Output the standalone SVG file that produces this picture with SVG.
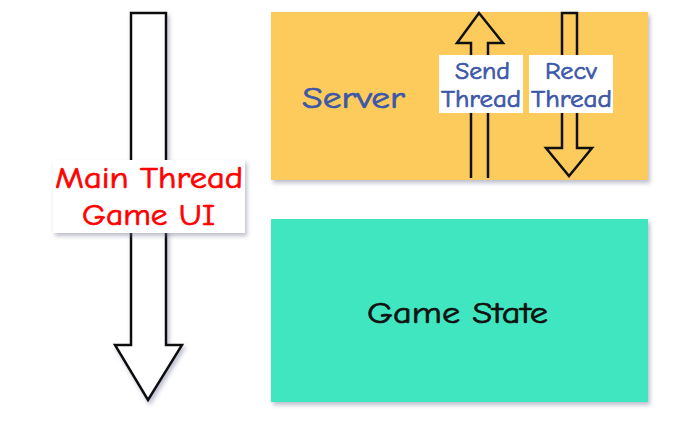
<svg xmlns="http://www.w3.org/2000/svg" width="694" height="423" viewBox="0 0 694 423">
<defs>
<filter id="sh" x="-10%" y="-10%" width="130%" height="130%">
<feDropShadow dx="2" dy="3" stdDeviation="2" flood-color="#6a6f90" flood-opacity="0.45"/>
</filter>
</defs>
<style>
.t{font-family:"Comic Sans MS","Comic Neue","Noto Sans","Liberation Sans",sans-serif;stroke-width:0.7}
.arrow{fill:#ffffff;stroke:#111111;stroke-width:2.5;stroke-linejoin:miter}
.arrowY{fill:#fccb5c;stroke:#111111;stroke-width:2.5;stroke-linejoin:miter}
.lbl{fill:#ffffff}
.blue{fill:#3d57a8;stroke:#3d57a8}
.red{fill:#ff0000;stroke:#ff0000}
.blk{fill:#111111;stroke:#111111}
</style>
<rect width="694" height="423" fill="#ffffff"/>
<g id="server">
<rect x="271" y="12" width="377" height="168" fill="#fccb5c" filter="url(#sh)"/>
<text class="t blue" x="302" y="108" font-size="30" textLength="103" lengthAdjust="spacingAndGlyphs">Server</text>
</g>
<g id="game-state">
<rect x="271" y="219" width="377" height="183" fill="#41e6c0" filter="url(#sh)"/>
<text class="t blk" x="367" y="323" font-size="31" textLength="181" lengthAdjust="spacingAndGlyphs">Game State</text>
</g>
<g id="connectors">
<path id="main-thread-arrow" class="arrow" filter="url(#sh)" d="M131,13 H166 V345 H182 L148,400 L115,345 H131 Z"/>
<path id="send-arrow" class="arrowY" d="M471,178 V43 H457 L479,13 L503,43 H488 V178"/>
<path id="recv-arrow" class="arrowY" d="M562,13 H577 V148 H592 L569,176 L546,148 H562 Z"/>
</g>
<g id="main-thread">
<rect x="53" y="160" width="192" height="73" class="lbl" filter="url(#sh)"/>
<text class="t red" x="55" y="188" font-size="30" textLength="188" lengthAdjust="spacingAndGlyphs">Main Thread</text>
<text class="t red" x="82" y="225" font-size="30" textLength="133" lengthAdjust="spacingAndGlyphs">Game UI</text>
</g>
<g id="send-thread">
<rect x="439" y="55" width="84" height="58" class="lbl"/>
<text class="t blue" x="455" y="79" font-size="24" textLength="55" lengthAdjust="spacingAndGlyphs">Send</text>
<text class="t blue" x="441" y="107" font-size="24" textLength="80" lengthAdjust="spacingAndGlyphs">Thread</text>
</g>
<g id="recv-thread">
<rect x="529" y="55" width="84" height="58" class="lbl"/>
<text class="t blue" x="545" y="79" font-size="24" textLength="52" lengthAdjust="spacingAndGlyphs">Recv</text>
<text class="t blue" x="531" y="107" font-size="24" textLength="81" lengthAdjust="spacingAndGlyphs">Thread</text>
</g>
</svg>
